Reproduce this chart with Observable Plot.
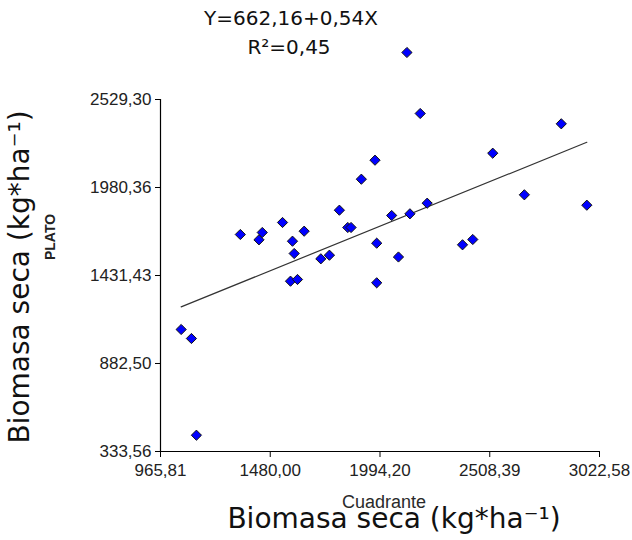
<!DOCTYPE html>
<html><head><meta charset="utf-8">
<script src="https://cdn.jsdelivr.net/npm/d3@7"></script>
<script src="https://cdn.jsdelivr.net/npm/@observablehq/plot@0.6"></script>
<style>body{margin:0;background:#fff}#chart svg{display:block}</style>
</head><body><div id="chart"></div>
<script>
// Biomasa seca (kg*ha^-1): Cuadrante (x) vs PLATO (y)
const cuadrante = [1062.6,1110.7,1134.1,1339.8,1427.2,1442.6,1537.5,1584.2,1592.2,1574.9,1607.6,1638.9,1717.0,1757.2,1803.9,1843.2,1858.6,1906.8,1970.8,1978.8,1978.8,2048.9,2080.7,2134.4,2182.6,2215.3,2380.8,2428.9,2522.4,2670.6,2843.5,2963.2,2120.4];
const plato     = [1094.6,1038.4,435.2,1687.2,1654.1,1699.7,1762.1,1645.4,1568.7,1395.9,1406.5,1707.8,1535.6,1558.1,1838.8,1730.9,1730.9,2032.2,2150.7,1632.9,1385.9,1805.7,1546.9,1816.3,2442.0,1882.4,1622.9,1656.0,2194.3,1934.8,2377.7,1870.0,2822.5];
const xTicks = [965.81,1480.00,1994.20,2508.39,3022.58];
const yTicks = [333.56,882.50,1431.43,1980.36,2529.30];
const intercept = 662.16, slope = 0.54, r2 = 0.45;

const pts = cuadrante.map((x,i)=>({x, y: plato[i]}));
const xFit = d3.extent(cuadrante.slice(0, 32));
const fit = xFit.map(x=>({x, y: intercept + slope*x}));
const fmt = d => d.toFixed(2).replace(".", ",");
const tickFont = "'Liberation Sans', Arial, sans-serif";

const plot = Plot.plot({
  width: 632, height: 540,
  marginLeft: 160, marginRight: 33, marginTop: 99, marginBottom: 89,
  style: {fontFamily: tickFont, background: "#fff", overflow: "visible"},
  x: {domain: [xTicks[0], xTicks[xTicks.length-1]], label: null},
  y: {domain: [yTicks[0], yTicks[yTicks.length-1]], label: null},
  marks: [
    Plot.axisX({ticks: xTicks, tickFormat: fmt, tickSize: 6, tickPadding: 6, fontSize: 17, fill: "#222", stroke: "#000", label: null}),
    Plot.axisY({ticks: yTicks, tickFormat: fmt, tickSize: 5, tickPadding: 4, fontSize: 17, fill: "#222", stroke: "#000", label: null}),
    Plot.ruleX([xTicks[0]], {stroke: "#000", strokeWidth: 1.2}),
    Plot.ruleY([yTicks[0]], {stroke: "#000", strokeWidth: 1.2}),
    Plot.line(fit, {x: "x", y: "y", stroke: "#333", strokeWidth: 1.2}),
    Plot.dot(pts, {x: "x", y: "y", symbol: "diamond2", r: 4.6, fill: "#0000ff", stroke: "#111", strokeWidth: 1})
  ]
});
document.getElementById("chart").appendChild(plot);

const svg = d3.select(plot);
const big = "'DejaVu Sans', Verdana, sans-serif";
function addText(txt, x, y, opts) {
  const t = svg.append("text").attr("x", x).attr("y", y)
    .attr("text-anchor", "middle")
    .attr("font-family", opts.family || big)
    .attr("font-size", opts.size)
    .attr("font-weight", opts.weight || "normal")
    .attr("fill", opts.fill || "#111")
    .text(txt);
  if (opts.rotate) t.attr("transform", `rotate(-90,${x},${y})`);
  return t;
}
addText(`Y=${fmt(intercept)}+${fmt(slope)}X`, 291, 25, {size: 20});
addText(`R²=${fmt(r2)}`, 289, 54, {size: 20});
addText("Cuadrante", 384, 508, {size: 18, family: tickFont, fill: "#2a2a2a"});
addText("Biomasa seca (kg*ha⁻¹)", 394, 528, {size: 28});
addText("PLATO", 55, 237, {size: 14, family: tickFont, weight: "bold", fill: "#222", rotate: true});
addText("Biomasa seca (kg*ha⁻¹)", 29, 277, {size: 28, rotate: true});
</script>
</body></html>
